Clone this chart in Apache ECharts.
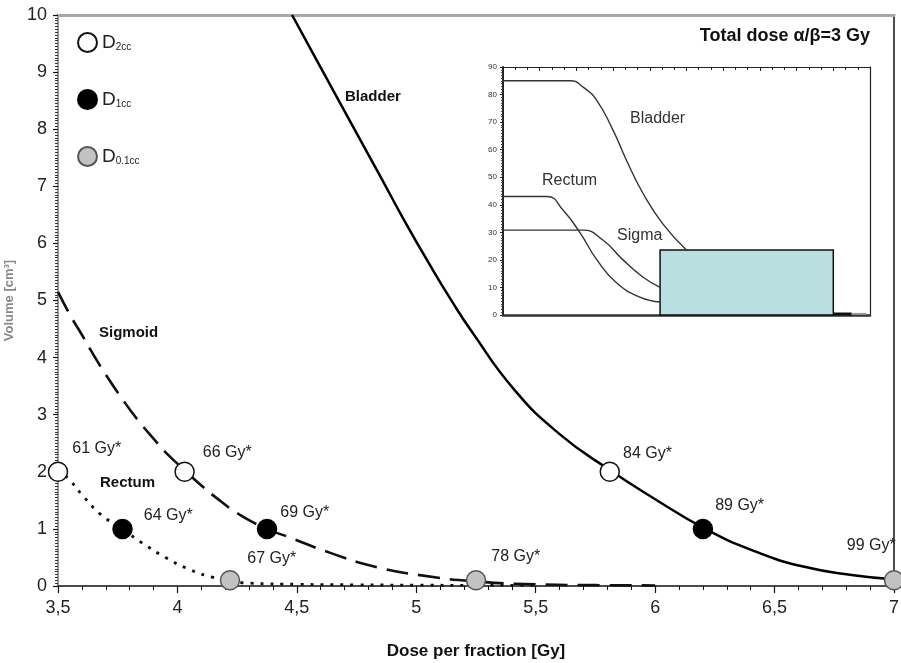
<!DOCTYPE html>
<html><head><meta charset="utf-8">
<script src="https://cdn.jsdelivr.net/npm/echarts@6/dist/echarts.min.js"></script>
<style>html,body{margin:0;padding:0;background:#fff}#c{width:901px;height:663px}</style>
</head><body><div id="c"></div>
<script>
// ---- main chart data ----
const xTicks = [3.5, 4, 4.5, 5, 5.5, 6, 6.5, 7];
const bladderX = [4.48, 4.6, 4.75, 4.85, 4.95, 5.06, 5.15, 5.23, 5.41, 5.6, 5.81, 6.0, 6.21, 6.41, 6.62, 6.83, 7.0];
const bladderY = [10, 9.08, 7.93, 7.17, 6.4, 5.6, 4.98, 4.47, 3.44, 2.66, 2.03, 1.52, 1.0, 0.62, 0.34, 0.19, 0.12];
const sigmoidX = [3.5, 3.55, 3.6, 3.65, 3.7, 3.77, 3.83, 3.9, 3.96, 4.03, 4.1, 4.18, 4.26, 4.375, 4.47, 4.64, 4.835, 5.015, 5.25, 5.5, 5.75, 6.0];
const sigmoidY = [5.15, 4.75, 4.4, 4.04, 3.7, 3.27, 2.93, 2.58, 2.3, 2.03, 1.76, 1.49, 1.25, 1.0, 0.85, 0.58, 0.33, 0.19, 0.08, 0.03, 0.015, 0.01];
const rectumX = [3.5, 3.55, 3.6, 3.68, 3.77, 3.85, 3.95, 4.05, 4.15, 4.22, 4.3, 4.5, 4.75, 5.0, 5.3, 5.5];
const rectumY = [2.05, 1.85, 1.6, 1.25, 1.0, 0.76, 0.5, 0.29, 0.15, 0.09, 0.05, 0.03, 0.02, 0.015, 0.01, 0.01];

const d2ccX = [3.5, 4.03, 5.81];   const d2ccY = [2, 2, 2];   const d2ccLab = ['61 Gy*', '66 Gy*', '84 Gy*'];
const d1ccX = [3.77, 4.375, 6.2];  const d1ccY = [1, 1, 1];   const d1ccLab = ['64 Gy*', '69 Gy*', '89 Gy*'];
const d01ccX = [4.22, 5.25, 7.0];  const d01ccY = [0.1, 0.1, 0.1]; const d01ccLab = ['67 Gy*', '78 Gy*', '99 Gy*'];

// ---- inset data ----
const insetBladderX = [0, 18.3, 22, 25.5, 30, 33.7, 38.2, 43.6, 50];
const insetBladderY = [85, 85, 82.5, 78, 67, 56, 44, 33, 23.6];
const insetRectumX = [0, 12, 16.4, 21, 25.6, 31, 37.3, 42.8];
const insetRectumY = [43, 43, 38, 29.8, 20, 11.6, 6.5, 4.7];
const insetSigmaX = [0, 21.8, 27.2, 32.7, 38.1, 42.8];
const insetSigmaY = [30.8, 30.8, 27.2, 20, 13.8, 10];
const insetBox = [42.8, 90, 23.6];          // x start, x end, height
const insetTailX = [90, 95];  const insetTailY = [0.4, 0.4];
const insetTail2X = [95, 99]; const insetTail2Y = [0.4, 0.4];

// label offsets (style, not data)
const labOff = {
  d2: [['right', [4, -23]], ['right', [8, -19]], ['right', [3, -18]]],
  d1: [['right', [11, -13]], ['right', [3, -16]], ['right', [2, -23]]],
  d01: [['right', [7, -22]], ['right', [5, -24]], ['left', [12, -35]]]
};

const zip = (a, b) => a.map((v, i) => [v, b[i]]);
const FONT = '"Liberation Sans", Arial, sans-serif';

function pts(xs, ys, labs, offs) {
  return xs.map((x, i) => ({
    value: [x, ys[i]],
    label: { show: true, formatter: labs[i], position: offs[i][0], offset: offs[i][1], distance: 0 }
  }));
}
const ptLabel = { fontSize: 16, fontFamily: FONT, color: '#222' };

const chart = echarts.init(document.getElementById('c'));
chart.setOption({
  animation: false,
  backgroundColor: '#fff',
  textStyle: { fontFamily: FONT },
  grid: [
    { left: 58, right: 7, top: 15, bottom: 77, outerBoundsMode: 'none', containLabel: false },
    { left: 503, right: 31, top: 67, bottom: 348, outerBoundsMode: 'none', containLabel: false }
  ],
  legend: {
    orient: 'vertical', left: 72, top: 27, itemWidth: 19, itemHeight: 19, itemGap: 36,
    selectedMode: false,
    data: ['D2cc', 'D1cc', 'D0.1cc'],
    formatter: n => '{d|D}{s|' + n.slice(1) + '}',
    textStyle: {
      rich: {
        d: { fontSize: 19, lineHeight: 20, color: '#222', fontFamily: FONT },
        s: { fontSize: 10, lineHeight: 10, verticalAlign: 'bottom', color: '#222', fontFamily: FONT }
      }
    }
  },
  xAxis: [
    { type: 'value', gridIndex: 0, min: 3.5, max: 7, interval: 0.5, position: 'bottom',
      name: 'Dose per fraction [Gy]', nameLocation: 'middle', nameGap: 57,
      nameTextStyle: { fontSize: 17, fontWeight: 'bold', color: '#111', fontFamily: FONT },
      axisLine: { onZero: false, lineStyle: { color: '#111', width: 1.5 } },
      axisTick: { length: 7, lineStyle: { color: '#111', width: 1.2 } },
      minorTick: { show: true, splitNumber: 5, length: 4, lineStyle: { color: '#111' } },
      axisLabel: { fontSize: 18, color: '#222', margin: 13, formatter: v => String(v).replace('.', ',') },
      splitLine: { show: false } },
    { type: 'value', gridIndex: 0, min: 3.5, max: 7, position: 'top',
      axisLine: { show: true, onZero: false, lineStyle: { color: '#a8a8a8', width: 3 } },
      axisTick: { show: false }, axisLabel: { show: false }, splitLine: { show: false } },
    { type: 'value', gridIndex: 1, min: 0, max: 100, position: 'bottom',
      axisLine: { onZero: false, lineStyle: { color: '#333', width: 2.5 } },
      axisTick: { show: false }, axisLabel: { show: false }, splitLine: { show: false } },
    { type: 'value', gridIndex: 1, min: 0, max: 100, interval: 10, position: 'top',
      axisLine: { show: true, onZero: false, lineStyle: { color: '#222', width: 1.2 } },
      axisTick: { show: true, inside: true, length: 4, lineStyle: { color: '#222' } },
      minorTick: { show: true, splitNumber: 3, length: 3, lineStyle: { color: '#222' } },
      axisLabel: { show: false }, splitLine: { show: false } }
  ],
  yAxis: [
    { type: 'value', gridIndex: 0, min: 0, max: 10, interval: 1,
      name: 'Volume [cm³]', nameLocation: 'middle', nameGap: 37,
      nameTextStyle: { fontSize: 13, fontWeight: 'bold', color: '#888', fontFamily: FONT },
      axisLine: { onZero: false, lineStyle: { color: '#9a9a9a', width: 2 } },
      axisTick: { length: 5, lineStyle: { color: '#111', width: 1.2 } },
      minorTick: { show: true, splitNumber: 20, length: 3, lineStyle: { color: '#333' } },
      axisLabel: { fontSize: 18, color: '#222', margin: 11 },
      splitLine: { show: false } },
    { type: 'value', gridIndex: 0, min: 0, max: 10, position: 'right',
      axisLine: { show: true, onZero: false, lineStyle: { color: '#111', width: 1.5 } },
      axisTick: { show: false }, axisLabel: { show: false }, splitLine: { show: false } },
    { type: 'value', gridIndex: 1, min: 0, max: 90, interval: 10,
      axisLine: { show: true, onZero: false, lineStyle: { color: '#222', width: 2 } },
      axisTick: { length: 3, lineStyle: { color: '#222' } },
      minorTick: { show: true, splitNumber: 10, length: 2, lineStyle: { color: '#444' } },
      axisLabel: { fontSize: 8, color: '#333', margin: 6 },
      splitLine: { show: false } },
    { type: 'value', gridIndex: 1, min: 0, max: 90, position: 'right',
      axisLine: { show: true, onZero: false, lineStyle: { color: '#222', width: 1.2 } },
      axisTick: { show: false }, axisLabel: { show: false }, splitLine: { show: false } }
  ],
  series: [
    { name: 'Bladder', type: 'line', xAxisIndex: 0, yAxisIndex: 0, data: zip(bladderX, bladderY),
      showSymbol: false, smooth: true, lineStyle: { color: '#000', width: 2.5 }, z: 3 },
    { name: 'Sigmoid', type: 'line', xAxisIndex: 0, yAxisIndex: 0, data: zip(sigmoidX, sigmoidY),
      showSymbol: false, smooth: true, lineStyle: { color: '#111', width: 2.6, type: [22, 10] }, z: 3 },
    { name: 'Rectum', type: 'line', xAxisIndex: 0, yAxisIndex: 0, data: zip(rectumX, rectumY),
      showSymbol: false, smooth: true, lineStyle: { color: '#111', width: 2.8, type: [3, 7] }, z: 3 },
    { name: 'D2cc', type: 'scatter', xAxisIndex: 0, yAxisIndex: 0, symbol: 'circle', symbolSize: 19,
      itemStyle: { color: '#fff', borderColor: '#111', borderWidth: 1.5, opacity: 1 },
      label: ptLabel, data: pts(d2ccX, d2ccY, d2ccLab, labOff.d2), z: 10 },
    { name: 'D1cc', type: 'scatter', xAxisIndex: 0, yAxisIndex: 0, symbol: 'circle', symbolSize: 19,
      itemStyle: { color: '#000', borderColor: '#000', borderWidth: 1.5, opacity: 1 },
      label: ptLabel, data: pts(d1ccX, d1ccY, d1ccLab, labOff.d1), z: 10 },
    { name: 'D0.1cc', type: 'scatter', xAxisIndex: 0, yAxisIndex: 0, symbol: 'circle', symbolSize: 19,
      itemStyle: { color: '#c2c2c2', borderColor: '#555', borderWidth: 1.5, opacity: 1 },
      label: ptLabel, data: pts(d01ccX, d01ccY, d01ccLab, labOff.d01), z: 10 },
    // inset
    { type: 'line', xAxisIndex: 2, yAxisIndex: 2, data: zip(insetBladderX, insetBladderY),
      showSymbol: false, smooth: true, lineStyle: { color: '#333', width: 1.4 }, z: 6,
      markArea: { silent: true, itemStyle: { color: '#b9dfe1', borderColor: '#111', borderWidth: 1.5, opacity: 1 },
        data: [[{ xAxis: insetBox[0], yAxis: 0 }, { xAxis: insetBox[1], yAxis: insetBox[2] }]] } },
    { type: 'line', xAxisIndex: 2, yAxisIndex: 2, data: zip(insetRectumX, insetRectumY),
      showSymbol: false, smooth: true, lineStyle: { color: '#333', width: 1.4 }, z: 6 },
    { type: 'line', xAxisIndex: 2, yAxisIndex: 2, data: zip(insetSigmaX, insetSigmaY),
      showSymbol: false, smooth: true, lineStyle: { color: '#333', width: 1.4 }, z: 6 },
    { type: 'line', xAxisIndex: 2, yAxisIndex: 2, data: zip(insetTailX, insetTailY),
      showSymbol: false, lineStyle: { color: '#111', width: 3 }, z: 6 },
    { type: 'line', xAxisIndex: 2, yAxisIndex: 2, data: zip(insetTail2X, insetTail2Y),
      showSymbol: false, lineStyle: { color: '#999', width: 2 }, z: 6 }
  ],
  graphic: [
    { type: 'text', left: 345, top: 89, z: 20, style: { text: 'Bladder', font: 'bold 15px ' + FONT, fill: '#111' } },
    { type: 'text', left: 99, top: 325, z: 20, style: { text: 'Sigmoid', font: 'bold 15px ' + FONT, fill: '#111' } },
    { type: 'text', left: 100, top: 475, z: 20, style: { text: 'Rectum', font: 'bold 15px ' + FONT, fill: '#111' } },
    { type: 'text', right: 31, top: 27, z: 20, style: { text: 'Total dose α/β=3 Gy', font: 'bold 18px ' + FONT, fill: '#111' } },
    { type: 'text', left: 630, top: 111, z: 20, style: { text: 'Bladder', font: '16px ' + FONT, fill: '#333' } },
    { type: 'text', left: 542, top: 173, z: 20, style: { text: 'Rectum', font: '16px ' + FONT, fill: '#333' } },
    { type: 'text', left: 617, top: 228, z: 20, style: { text: 'Sigma', font: '16px ' + FONT, fill: '#333' } }
  ]
});
</script>
</body></html>
